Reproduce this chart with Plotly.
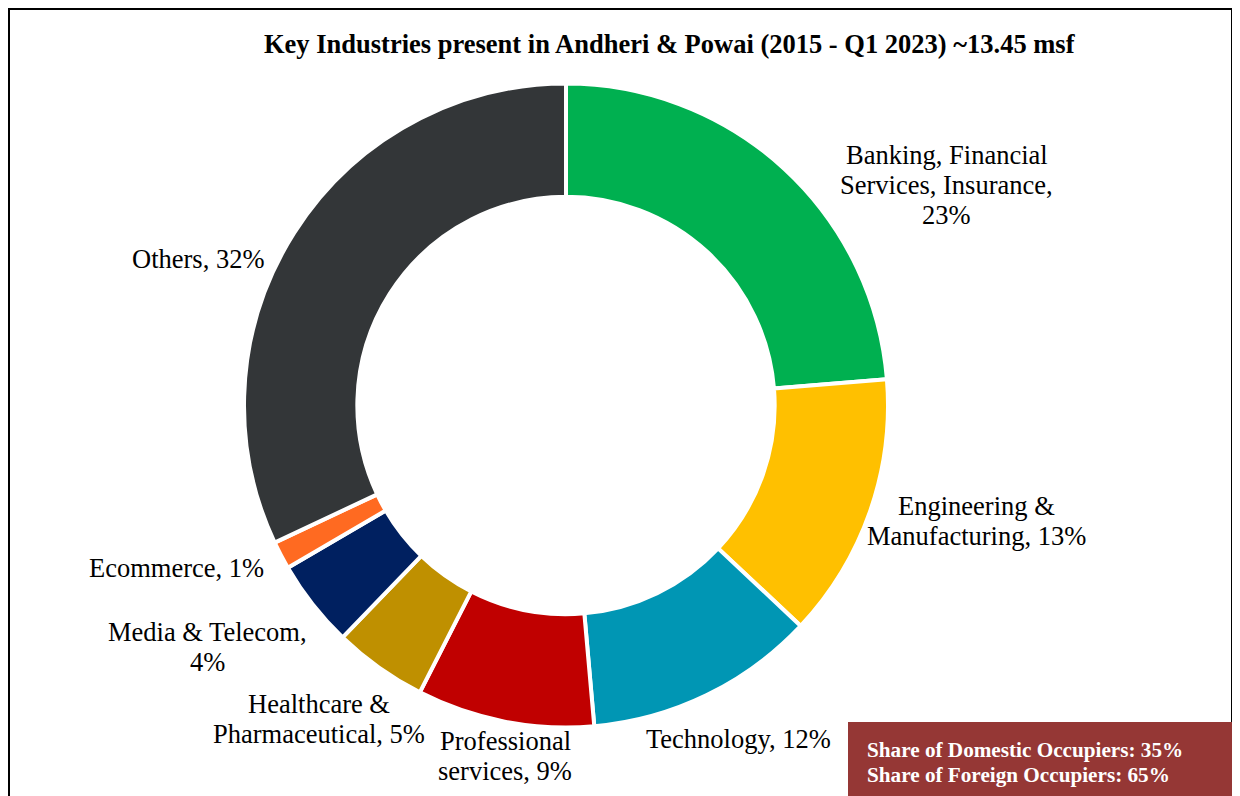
import plotly.graph_objects as go

# ---- data ----
industries = ["Banking, Financial Services, Insurance", "Engineering & Manufacturing",
              "Technology", "Professional services", "Healthcare & Pharmaceutical",
              "Media & Telecom", "Ecommerce", "Others"]
shares = [23.7, 13.3, 11.6, 8.9, 4.7, 4.4, 1.4, 32.0]          # slice sizes
shown_pct = ["23%", "13%", "12%", "9%", "5%", "4%", "1%", "32%"]  # percentages printed on chart
label_lines = [
    ["Banking, Financial", "Services, Insurance,", "23%"],
    ["Engineering &", "Manufacturing, 13%"],
    ["Technology, 12%"],
    ["Professional", "services, 9%"],
    ["Healthcare &", "Pharmaceutical, 5%"],
    ["Media & Telecom,", "4%"],
    ["Ecommerce, 1%"],
    ["Others, 32%"],
]
colors = ["#00B050", "#FFC000", "#0096B4", "#C00000", "#BF9000", "#002060", "#FF6A21", "#333638"]
title_text = "Key Industries present in Andheri & Powai (2015 - Q1 2023) ~13.45 msf"
box_lines = ["Share of Domestic Occupiers: 35%", "Share of Foreign Occupiers: 65%"]

# ---- layout helpers (pixel geometry in screenshot coords) ----
W, H = 1240, 796
OFF = 8  # page body margin
cx, cy, R = 566, 405.5, 322
label_centers = [(947, 185), (976, 521), (738, 739), (505, 756),
                 (319, 719), (207, 647), (176, 568), (198, 259)]
LINE = 30
FONT = "Liberation Serif, Times New Roman, serif"

def px(x):
    return (x - OFF) / W

def py(y):
    return 1 - (y - OFF) / H

fig = go.Figure(go.Pie(
    labels=industries,
    values=shares,
    marker=dict(colors=colors, line=dict(color="white", width=4)),
    hole=0.648,
    sort=False,
    direction="clockwise",
    rotation=0,
    textinfo="none",
    hoverinfo="label+text",
    text=shown_pct,
    showlegend=False,
    domain=dict(x=[px(cx - R), px(cx + R)], y=[py(cy + R), py(cy - R)]),
))

annotations = []
for lines, (lx, ly) in zip(label_lines, label_centers):
    n = len(lines)
    for i, t in enumerate(lines):
        yy = ly + (i - (n - 1) / 2) * LINE
        annotations.append(dict(x=px(lx), y=py(yy), xref="paper", yref="paper",
                                text=t, showarrow=False, xanchor="center", yanchor="middle",
                                font=dict(family=FONT, size=26.5, color="black")))

annotations.append(dict(x=px(670), y=py(44), xref="paper", yref="paper",
                        text="<b>" + title_text + "</b>", showarrow=False,
                        xanchor="center", yanchor="middle",
                        font=dict(family=FONT, size=26.5, color="black")))

for i, t in enumerate(box_lines):
    annotations.append(dict(x=px(865), y=py(750 + i * 25), xref="paper", yref="paper",
                            text="<b>" + t + "</b>", showarrow=False,
                            xanchor="left", yanchor="middle",
                            font=dict(family=FONT, size=21.2, color="white")))

shapes = [
    dict(type="rect", xref="paper", yref="paper", x0=px(9), x1=px(1232), y0=py(810), y1=py(9),
         line=dict(color="black", width=2), fillcolor="rgba(0,0,0,0)", layer="below"),
    dict(type="rect", xref="paper", yref="paper", x0=px(848), x1=px(1233), y0=py(810), y1=py(722),
         line=dict(width=0), fillcolor="#953735", layer="above"),
]

fig.update_layout(
    width=W, height=H,
    margin=dict(l=0, r=0, t=0, b=0),
    paper_bgcolor="white", plot_bgcolor="white",
    annotations=annotations, shapes=shapes,
)

fig.write_html("out.html")
